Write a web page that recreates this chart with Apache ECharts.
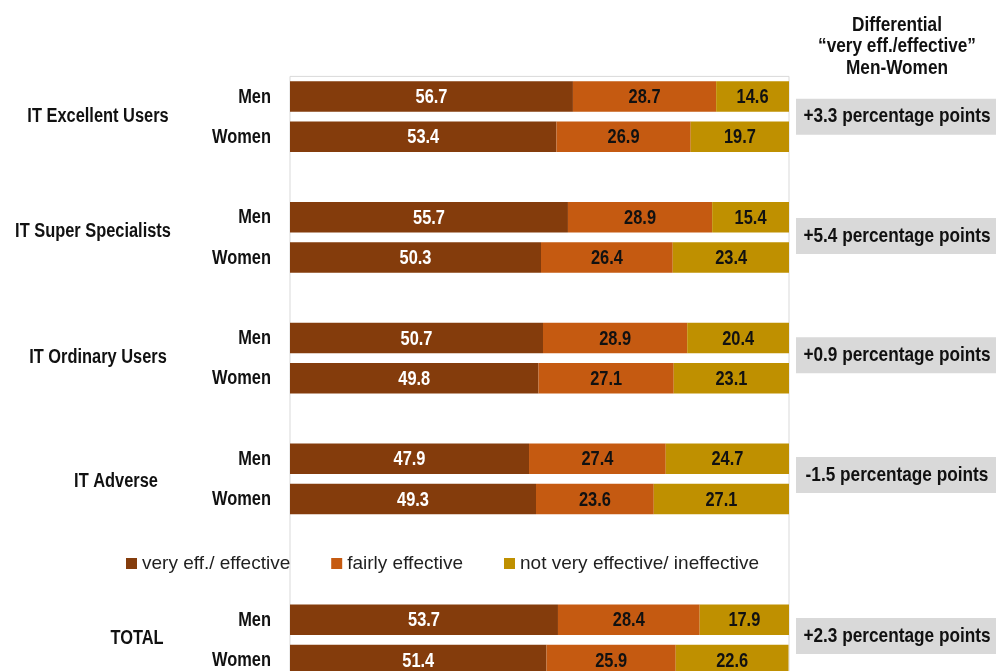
<!DOCTYPE html>
<html>
<head>
<meta charset="utf-8">
<script src="https://cdn.jsdelivr.net/npm/echarts@6/dist/echarts.min.js"></script>
<style>
  html, body { margin: 0; padding: 0; background: #ffffff; overflow: hidden; }
  #chart { width: 996px; height: 700px; }
</style>
</head>
<body>
<div id="chart"></div>
<script>
// Survey groups and the share (%) of each judgement, men vs women
const groups = ['IT Excellent Users', 'IT Super Specialists', 'IT Ordinary Users', 'IT Adverse', 'TOTAL'];
const genders = ['Men', 'Women'];
const seriesNames = ['very eff./ effective', 'fairly effective', 'not very effective/ ineffective'];

const veryMen      = [56.7, 55.7, 50.7, 47.9, 53.7];
const veryWomen    = [53.4, 50.3, 49.8, 49.3, 51.4];
const fairlyMen    = [28.7, 28.9, 28.9, 27.4, 28.4];
const fairlyWomen  = [26.9, 26.4, 27.1, 23.6, 25.9];
const notMen       = [14.6, 15.4, 20.4, 24.7, 17.9];
const notWomen     = [19.7, 23.4, 23.1, 27.1, 22.6];

// Differential of "very eff./effective", men minus women (percentage points)
const differential = ['+3.3', '+5.4', '+0.9', '-1.5', '+2.3'];

const headerLines = ['Differential', '\u201cvery eff./effective\u201d', 'Men-Women'];

// Arial-like face, squeezed horizontally to get a narrow bold look
const FONT = '"Liberation Sans", Arial, sans-serif';
const NARROW = 0.82;
const colors = ['#843C0C', '#C55A11', '#BF9000'];

// Row layout: Men/Women pairs, with empty slots between the groups
const blankBefore = [0, 1, 1, 1, 2];
const groupLabelX = [98, 93, 98, 116, 137];
const groupLabelDy = [0, -6, -1, 3, -1];
const boxDy = [0, -1.5, -3, -4, -4];

const rows = [];
const seriesRows = [[], [], []];
const pairIndex = [];
const sources = [[veryMen, veryWomen], [fairlyMen, fairlyWomen], [notMen, notWomen]];

groups.forEach((g, gi) => {
  for (let k = 0; k < blankBefore[gi]; k++) {
    rows.push('');
    seriesRows.forEach(s => s.push(null));
  }
  const pair = [];
  genders.forEach((gender, ki) => {
    pair.push(rows.length);
    rows.push(gender);
    sources.forEach((src, si) => seriesRows[si].push(src[ki][gi]));
  });
  pairIndex.push(pair);
});

const chart = echarts.init(document.getElementById('chart'), null, { renderer: 'canvas' });

chart.setOption({
  animation: false,
  backgroundColor: '#ffffff',
  grid: {
    left: 290,
    top: 76.4,
    width: 499,
    height: 603.75,
    show: true,
    borderColor: '#D9D9D9',
    borderWidth: 1,
    backgroundColor: 'transparent',
    containLabel: false
  },
  legend: {
    left: 121,
    top: 549,
    itemWidth: 11,
    itemHeight: 11,
    itemGap: 41,
    icon: 'rect',
    textStyle: { fontFamily: FONT, fontSize: 19, color: '#1f1f1f' },
    data: seriesNames
  },
  xAxis: {
    type: 'value',
    min: 0,
    max: 100,
    show: false
  },
  yAxis: {
    type: 'category',
    inverse: true,
    data: rows,
    axisLine: { show: false },
    axisTick: { show: false },
    splitLine: { show: false },
    axisLabel: { show: false }
  },
  series: seriesNames.map((name, si) => ({
    name: name,
    type: 'bar',
    stack: 'share',
    barCategoryGap: '24%',
    itemStyle: { color: colors[si] },
    label: { show: false },
    data: seriesRows[si]
  }))
});

function narrowText(x, y, text, size, fill, align) {
  return {
    type: 'text',
    x: x,
    y: y,
    z: 100,
    scaleX: NARROW,
    style: {
      text: text,
      fontFamily: FONT,
      fontWeight: 'bold',
      fontSize: size,
      fill: fill,
      align: align || 'center',
      verticalAlign: 'middle'
    }
  };
}

const graphics = [];

// Row names and segment values, positioned through the axes
rows.forEach((name, ri) => {
  if (!name) return;
  const y = chart.convertToPixel({ yAxisIndex: 0 }, ri);
  graphics.push(narrowText(271, y + 0.5, name, 20, '#111111', 'right'));
  let start = 0;
  seriesRows.forEach((vals, si) => {
    const v = vals[ri];
    if (v == null) return;
    const cx = chart.convertToPixel({ xAxisIndex: 0 }, start + v / 2);
    graphics.push(narrowText(cx, y + 1, v.toFixed(1), 20, si === 0 ? '#ffffff' : '#111111'));
    start += v;
  });
});

// Group names on the left and differential boxes on the right
pairIndex.forEach((pair, gi) => {
  const y0 = chart.convertToPixel({ yAxisIndex: 0 }, pair[0]);
  const y1 = chart.convertToPixel({ yAxisIndex: 0 }, pair[1]);
  const mid = (y0 + y1) / 2;
  graphics.push(narrowText(groupLabelX[gi], mid + groupLabelDy[gi], groups[gi], 20, '#111111'));
  graphics.push({
    type: 'rect',
    z: 90,
    shape: { x: 796, y: mid + boxDy[gi] - 18, width: 200, height: 36 },
    style: { fill: '#D9D9D9' }
  });
  graphics.push(narrowText(897, mid + boxDy[gi], differential[gi] + ' percentage points', 21, '#111111'));
});

headerLines.forEach((line, i) => {
  graphics.push(narrowText(897, 25 + i * 21.5, line, 21, '#111111'));
});

chart.setOption({ graphic: graphics });
</script>
</body>
</html>
